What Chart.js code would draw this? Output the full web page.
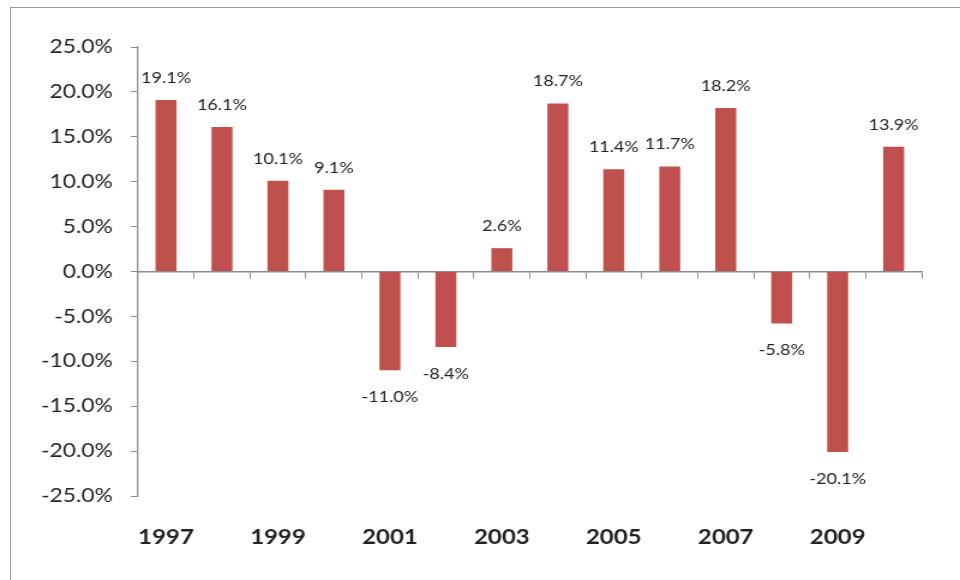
<!DOCTYPE html>
<html>
<head>
<meta charset="utf-8">
<script src="https://cdn.jsdelivr.net/npm/chart.js@4.4.0/dist/chart.umd.min.js"></script>
<style>
  html, body { margin:0; padding:0; background:#fff; }
  #wrap { position:relative; width:960px; height:580px; overflow:hidden; }
  #frame { position:absolute; left:10px; top:7px; width:1000px; height:620px; border:1.5px solid #999; box-sizing:border-box; }
  #stretch { position:absolute; left:0; top:0; width:800px; height:580px; transform:scaleX(1.2); transform-origin:0 0; }
  #c { display:block; }
</style>
</head>
<body>
<div id="wrap">
  <div id="frame"></div>
  <div id="stretch"><canvas id="c" width="800" height="580"></canvas></div>
</div>
<script>
const years = ['1997','1998','1999','2000','2001','2002','2003','2004','2005','2006','2007','2008','2009','2010'];
const returns = [19.1, 16.1, 10.1, 9.1, -11.0, -8.4, 2.6, 18.7, 11.4, 11.7, 18.2, -5.8, -20.1, 13.9];
const yMin = -25, yMax = 25, yStep = 5;
const barColor = '#C0504D';
const axisColor = '#8c8c8c';

const valueLabels = {
  id: 'valueLabels',
  afterDatasetsDraw(chart) {
    const ctx = chart.ctx;
    const meta = chart.getDatasetMeta(0);
    ctx.save();
    ctx.font = '15px Lato';
    ctx.fillStyle = '#222';
    ctx.textAlign = 'center';
    ctx.textBaseline = 'middle';
    meta.data.forEach((el, i) => {
      const v = returns[i];
      const y = v >= 0 ? el.y - 22 : el.y + 27;
      ctx.fillText(v.toFixed(1) + '%', el.x, y);
    });
    ctx.restore();
  }
};

new Chart(document.getElementById('c'), {
  type: 'bar',
  data: {
    labels: years,
    datasets: [{
      data: returns,
      backgroundColor: barColor,
      borderWidth: 0,
      categoryPercentage: 1,
      barPercentage: 0.375,
      xAxisID: 'x',
      yAxisID: 'y'
    }]
  },
  options: {
    responsive: false,
    animation: false,
    devicePixelRatio: 1,
    layout: { padding: { left: 0, right: 32, top: 47, bottom: 0 } },
    plugins: { legend: { display: false }, tooltip: { enabled: false } },
    scales: {
      y: {
        min: yMin, max: yMax,
        ticks: {
          stepSize: yStep,
          padding: 15,
          color: '#222',
          font: { family: 'Lato', size: 19 },
          callback: v => v.toFixed(1) + '%'
        },
        grid: {
          drawOnChartArea: false,
          drawTicks: true,
          tickLength: 6,
          tickColor: axisColor,
          color: axisColor
        },
        border: { display: true, color: axisColor, width: 1.3 },
        afterFit: s => { s.width = 115; }
      },
      x: {
        position: { y: 0 },
        offset: true,
        ticks: { display: false },
        grid: {
          offset: true,
          drawOnChartArea: false,
          drawTicks: true,
          tickLength: 6,
          tickColor: axisColor,
          color: axisColor
        },
        border: { display: true, color: axisColor, width: 1.5 }
      },
      x2: {
        type: 'category',
        labels: years,
        position: 'bottom',
        offset: true,
        grid: { display: false, drawTicks: false },
        border: { display: false },
        ticks: {
          autoSkip: false,
          maxRotation: 0,
          padding: 30,
          color: '#222',
          font: { family: 'Lato', size: 20, weight: 'bold' },
          callback: function(v, i) { return i % 2 === 0 ? years[i] : ''; }
        },
        afterFit: s => { s.height = 84; }
      }
    }
  },
  plugins: [valueLabels]
});
</script>
</body>
</html>
